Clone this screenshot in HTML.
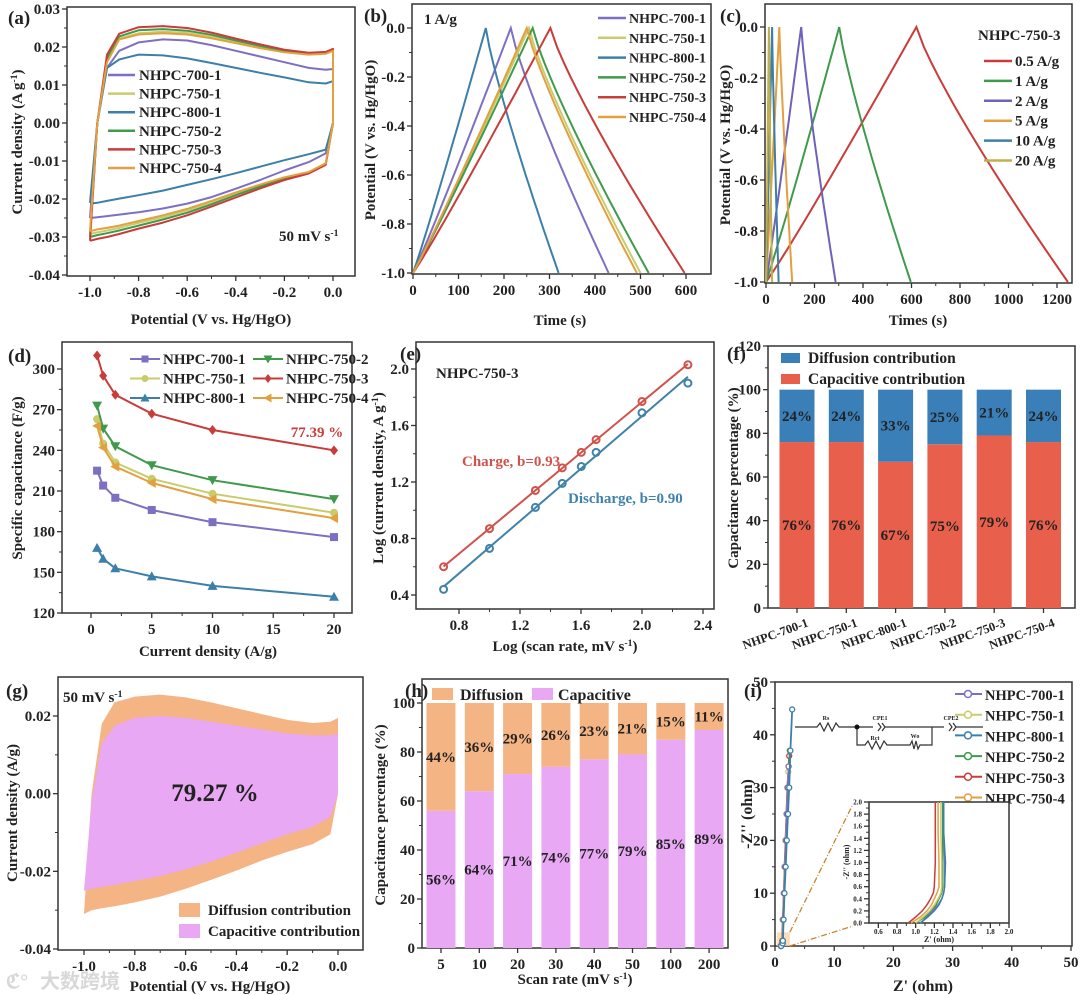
<!DOCTYPE html>
<html><head><meta charset="utf-8">
<style>
html,body{margin:0;padding:0;background:#fff;}
svg{display:block;font-family:"Liberation Serif","Noto Serif CJK SC",serif;font-weight:bold;}
</style></head>
<body>
<svg id="fig" width="1080" height="995" viewBox="0 0 1080 995" xmlns="http://www.w3.org/2000/svg"></svg>
<script>
// ---------- DATA ----------
const cvX = [-1,-0.97,-0.93,-0.88,-0.8,-0.7,-0.6,-0.5,-0.4,-0.3,-0.2,-0.1,-0.03,0];
const cvNames = ["NHPC-700-1","NHPC-750-1","NHPC-800-1","NHPC-750-2","NHPC-750-3","NHPC-750-4"];
const cvColors = ["#7d70c2","#c9cc6c","#3c80aa","#409a4c","#c83c3a","#e2a040"];
const cvUp700_1 = [-0.025,0.0,0.0145,0.019,0.0212,0.022,0.0217,0.0205,0.019,0.0175,0.016,0.0145,0.014,0.0142];
const cvUp750_1 = [-0.029,0.0,0.0165,0.0222,0.0236,0.024,0.0237,0.0227,0.0213,0.020,0.0188,0.0181,0.0183,0.0191];
const cvUp800_1 = [-0.021,0.0,0.0145,0.0167,0.018,0.0178,0.017,0.0158,0.0145,0.0132,0.012,0.0107,0.0104,0.011];
const cvUp750_2 = [-0.030,0.0,0.017,0.0228,0.0244,0.0247,0.0243,0.0232,0.0217,0.0203,0.019,0.0183,0.0185,0.0193];
const cvUp750_3 = [-0.031,0.0,0.018,0.0235,0.0252,0.0255,0.025,0.0238,0.0222,0.0207,0.0193,0.0185,0.0187,0.0195];
const cvUp750_4 = [-0.0285,0.0,0.016,0.022,0.0233,0.0236,0.0233,0.0223,0.021,0.0197,0.0186,0.018,0.0182,0.019];
const cvLo700_1 = [-0.025,-0.0248,-0.0245,-0.0241,-0.0235,-0.0225,-0.0212,-0.0195,-0.0173,-0.015,-0.0125,-0.0103,-0.008,0];
const cvLo750_1 = [-0.0292,-0.0288,-0.0283,-0.0276,-0.0263,-0.0248,-0.023,-0.0209,-0.0186,-0.0164,-0.0145,-0.013,-0.0107,0];
const cvLo800_1 = [-0.0212,-0.021,-0.0205,-0.0199,-0.019,-0.0178,-0.0163,-0.0148,-0.0132,-0.0115,-0.0098,-0.0082,-0.007,0];
const cvLo750_2 = [-0.030,-0.0295,-0.029,-0.0283,-0.027,-0.0254,-0.0236,-0.0214,-0.019,-0.0167,-0.0147,-0.0131,-0.0108,0];
const cvLo750_3 = [-0.031,-0.0305,-0.030,-0.0292,-0.0278,-0.0262,-0.0243,-0.022,-0.0196,-0.0172,-0.015,-0.0133,-0.011,0];
const cvLo750_4 = [-0.0285,-0.028,-0.0276,-0.027,-0.0258,-0.0243,-0.0226,-0.0205,-0.0183,-0.0162,-0.0143,-0.0129,-0.0106,0];
const cvUp = [cvUp700_1,cvUp750_1,cvUp800_1,cvUp750_2,cvUp750_3,cvUp750_4];
const cvLo = [cvLo700_1,cvLo750_1,cvLo800_1,cvLo750_2,cvLo750_3,cvLo750_4];
const gcdPeak = [215,255,160,263,302,250];
const gcdEnd = [430,500,320,518,597,492];
const rateNames = ["0.5 A/g","1 A/g","2 A/g","5 A/g","10 A/g","20 A/g"];
const rateColors = ["#c83c3a","#409a4c","#6f62b8","#e2a040","#3c80aa","#c2b04c"];
const ratePeak = [620,302,145,55,25,12];
const rateEnd = [1245,597,287,108,52,25];
const dX = [0.5,1,2,5,10,20];
const d700_1 = [225,214,205,196,187,176];
const d750_1 = [263,245,231,219,208,194];
const d800_1 = [168,160,153,147,140,132];
const d750_2 = [273,256,243,229,218,204];
const d750_3 = [310,295,281,267,255,240];
const d750_4 = [258,242,228,216,204,190];
const dSeries = [d700_1,d750_1,d800_1,d750_2,d750_3,d750_4];
const dMarkers = ["square","circle","tri-up","tri-down","diamond","tri-left"];
const eX = [0.699,1.0,1.301,1.477,1.602,1.699,2.0,2.301];
const eCharge = [0.60,0.87,1.14,1.30,1.41,1.50,1.77,2.03];
const eDischarge = [0.44,0.73,1.02,1.19,1.31,1.41,1.69,1.90];
const fCats = ["NHPC-700-1","NHPC-750-1","NHPC-800-1","NHPC-750-2","NHPC-750-3","NHPC-750-4"];
const fCap = [76,76,67,75,79,76];
const fDiff = [24,24,33,25,21,24];
const gTotUp = [-0.031,0.0,0.018,0.0235,0.025,0.0255,0.0248,0.0235,0.022,0.0205,0.019,0.0182,0.0185,0.0195];
const gTotLo = [-0.031,-0.030,-0.0295,-0.029,-0.028,-0.0265,-0.0245,-0.0222,-0.0198,-0.0172,-0.015,-0.013,-0.0105,0];
const gCapUp = [-0.025,-0.002,0.013,0.0175,0.0195,0.02,0.0195,0.0185,0.0175,0.0165,0.0155,0.015,0.015,0.0155];
const gCapLo = [-0.025,-0.0245,-0.024,-0.0235,-0.0225,-0.0212,-0.0195,-0.0175,-0.0152,-0.0128,-0.0105,-0.0085,-0.006,0.0];
const hCats = ["5","10","20","30","40","50","100","200"];
const hCap = [56,64,71,74,77,79,85,89];
const hDiff = [44,36,29,26,23,21,15,11];
const iRe700_1 = [1.05,1.3,1.32,1.4,1.55,1.7,1.85,2.0,2.15,2.3];
const iIm700_1 = [0,0.5,1,5,10,15,20,25,30,34];
const iRe750_1 = [1.0,1.27,1.29,1.38,1.52,1.68,1.82,1.98,2.12,2.25];
const iIm750_1 = [0,0.5,1,5,10,15,20,25,30,33];
const iRe800_1 = [1.05,1.3,1.33,1.45,1.6,1.8,2.0,2.2,2.4,2.6,2.9];
const iIm800_1 = [0,0.5,1,5,10,15,20,25,30,37,44.8];
const iRe750_2 = [1.0,1.28,1.3,1.4,1.55,1.7,1.85,2.0,2.2,2.5];
const iIm750_2 = [0,0.5,1,5,10,15,20,25,30,37];
const iRe750_3 = [0.95,1.2,1.22,1.32,1.48,1.62,1.78,1.95,2.1,2.4];
const iIm750_3 = [0,0.5,1,5,10,15,20,25,30,36];
const iRe750_4 = [0.97,1.24,1.26,1.35,1.5,1.65,1.8,1.95,2.1,2.3];
const iIm750_4 = [0,0.5,1,5,10,15,20,25,30,34];
const iRe = [iRe700_1,iRe750_1,iRe800_1,iRe750_2,iRe750_3,iRe750_4];
const iIm = [iIm700_1,iIm750_1,iIm800_1,iIm750_2,iIm750_3,iIm750_4];
const insIm = [0,0.1,0.2,0.3,0.4,0.5,0.6,1.0,1.5,2.0];
const ins700_1 = [1.05,1.12,1.18,1.24,1.28,1.3,1.31,1.31,1.3,1.3];
const ins750_1 = [1.0,1.08,1.15,1.2,1.24,1.27,1.28,1.28,1.27,1.27];
const ins800_1 = [1.05,1.13,1.2,1.25,1.28,1.3,1.31,1.32,1.3,1.3];
const ins750_2 = [1.0,1.1,1.17,1.22,1.25,1.28,1.29,1.29,1.29,1.29];
const ins750_3 = [0.92,1.0,1.07,1.12,1.16,1.19,1.2,1.21,1.21,1.21];
const ins750_4 = [0.95,1.05,1.12,1.17,1.2,1.23,1.25,1.25,1.24,1.24];
const insRe = [ins700_1,ins750_1,ins800_1,ins750_2,ins750_3,ins750_4];

// ---------- HELPERS ----------
const NS = "http://www.w3.org/2000/svg";
const svg = document.getElementById("fig");
function el(tag, attrs, name, parent) {
  const e = document.createElementNS(NS, tag);
  for (const k in attrs) e.setAttribute(k, attrs[k]);
  
  
  (parent || svg).appendChild(e);
  return e;
}
function txt(x, y, s, name, o) {
  o = o || {};
  const t = el("text", {x:x, y:y, "font-size":o.size||15, "text-anchor":o.anchor||"start", fill:o.fill||"#222"}, name, o.parent);
  if (o.rot) t.setAttribute("transform", "rotate(" + o.rot + " " + x + " " + y + ")");
  if (o.sup) {
    t.appendChild(document.createTextNode(s));
    const sp = document.createElementNS(NS, "tspan");
    sp.setAttribute("baseline-shift", "super");
    sp.setAttribute("font-size", (o.size||15)*0.65);
    sp.textContent = o.sup;
    t.appendChild(sp);
    if (o.after) t.appendChild(document.createTextNode(o.after));
  } else t.textContent = s;
  return t;
}
function lin(v0, p0, v1, p1) { return v => p0 + (v - v0) * (p1 - p0) / (v1 - v0); }
function panel(p) {
  const g = el("g", {}, p.name);
  el("rect", {x:p.L, y:p.T, width:p.R-p.L, height:p.B-p.T, fill:"none", stroke:"#333", "stroke-width":1.5}, p.name + "-frame", g);
  const sx = p.sx, sy = p.sy;
  if (p.xt) {
    p.xt.forEach((v, i) => {
      const x = sx(v);
      el("line", {x1:x, y1:p.B, x2:x, y2:p.B+5, stroke:"#333", "stroke-width":1.3}, "x-tick", g);
      if (i < p.xt.length - 1) { const xm = sx((v + p.xt[i+1]) / 2); el("line", {x1:xm, y1:p.B, x2:xm, y2:p.B+3, stroke:"#333"}, "x-minor-tick", g); }
      txt(x, p.B + 21, p.xf(v), "x-tick-label", {anchor:"middle", parent:g, size:p.fs||15});
    });
  }
  if (p.yt) {
    p.yt.forEach((v, i) => {
      const y = sy(v);
      el("line", {x1:p.L-5, y1:y, x2:p.L, y2:y, stroke:"#333", "stroke-width":1.3}, "y-tick", g);
      if (i < p.yt.length - 1) { const ym = sy((v + p.yt[i+1]) / 2); el("line", {x1:p.L-3, y1:ym, x2:p.L, y2:ym, stroke:"#333"}, "y-minor-tick", g); }
      txt(p.L - 7, y + 5, p.yf(v), "y-tick-label", {anchor:"end", parent:g, size:p.fs||15});
    });
  }
  return g;
}
function pathD(xs, ys, sx, sy) { return xs.map((x, i) => (i ? "L" : "M") + sx(x).toFixed(1) + "," + sy(ys[i]).toFixed(1)).join(""); }
function marker(g, type, x, y, col, r) {
  r = r || 4;
  let d;
  if (type === "square") return el("rect", {x:x-r, y:y-r, width:2*r, height:2*r, fill:col}, "marker-square", g);
  if (type === "circle") return el("circle", {cx:x, cy:y, r:r, fill:col}, "marker-circle", g);
  if (type === "tri-up") d = `M${x},${y-r-1}L${x+r+1},${y+r}L${x-r-1},${y+r}Z`;
  if (type === "tri-down") d = `M${x},${y+r+1}L${x+r+1},${y-r}L${x-r-1},${y-r}Z`;
  if (type === "tri-left") d = `M${x-r-1},${y}L${x+r},${y-r-1}L${x+r},${y+r+1}Z`;
  if (type === "diamond") d = `M${x},${y-r-1}L${x+r},${y}L${x},${y+r+1}L${x-r},${y}Z`;
  return el("path", {d:d, fill:col}, "marker-" + type, g);
}
const f1 = v => v.toFixed(1), f2 = v => v.toFixed(2), f0 = v => String(v);

// ---------- (a) ----------
(function(){
  const p = {name:"panel-a-cv", L:67, R:355, T:7, B:276, sx:lin(-1,90,0,333), sy:lin(-0.04,275,0.03,9),
    xt:[-1,-0.8,-0.6,-0.4,-0.2,0], xf:f1, yt:[-0.04,-0.03,-0.02,-0.01,0,0.01,0.02,0.03], yf:f2};
  const g = panel(p);
  cvNames.forEach((n, i) => {
    const d = pathD(cvX, cvUp[i], p.sx, p.sy) + pathD(cvX.slice().reverse(), cvLo[i].slice().reverse(), p.sx, p.sy).replace("M", "L");
    el("path", {d:d, fill:"none", stroke:cvColors[i], "stroke-width":2, "stroke-linejoin":"round"}, "cv-curve-" + n.toLowerCase(), g);
    const y = 80 + i * 18.6;
    el("line", {x1:108, y1:y-5, x2:135, y2:y-5, stroke:cvColors[i], "stroke-width":2.5}, "legend-line", g);
    txt(139, y, n, "legend-entry", {parent:g});
  });
  txt(279, 241, "50 mV s", "scan-rate-note", {parent:g, sup:"-1"});
  txt(8, 24, "(a)", "panel-label-a", {size:19});
  txt(211, 324, "Potential (V vs. Hg/HgO)", "x-axis-title", {anchor:"middle", parent:g});
  txt(22, 142, "Current density (A g", "y-axis-title", {anchor:"middle", rot:-90, parent:g, sup:"-1", after:")"});
})();

// ---------- (b) ----------
(function(){
  const p = {name:"panel-b-gcd", L:412, R:711, T:4, B:274, sx:lin(0,413,600,686), sy:lin(-1,273,0,28),
    xt:[0,100,200,300,400,500,600], xf:f0, yt:[-1,-0.8,-0.6,-0.4,-0.2,0], yf:f1};
  const g = panel(p);
  cvNames.forEach((n, i) => {
    const xs = [], ys = [];
    for (let k = 0; k <= 20; k++) { const u = k/20; xs.push(u*gcdPeak[i]); ys.push(-1 + Math.pow(u, 1.05)); }
    for (let k = 1; k <= 20; k++) { const u = k/20; xs.push(gcdPeak[i] + u*(gcdEnd[i]-gcdPeak[i])); ys.push(-Math.pow(u, 0.85)); }
    el("path", {d:pathD(xs, ys, p.sx, p.sy), fill:"none", stroke:cvColors[i], "stroke-width":2}, "gcd-curve-" + n.toLowerCase(), g);
    const y = 23 + i * 19.8;
    el("line", {x1:598, y1:y-5, x2:626, y2:y-5, stroke:cvColors[i], "stroke-width":2.5}, "legend-line", g);
    txt(629, y, n, "legend-entry", {parent:g, size:14});
  });
  txt(424, 24, "1 A/g", "current-note", {parent:g});
  txt(364, 22, "(b)", "panel-label-b", {size:19});
  txt(560, 325, "Time (s)", "x-axis-title", {anchor:"middle", parent:g});
  txt(375, 140, "Potential (V vs. Hg/HgO)", "y-axis-title", {anchor:"middle", rot:-90, parent:g});
})();

// ---------- (c) ----------
(function(){
  const p = {name:"panel-c-rate-gcd", L:765, R:1072, T:4, B:283, sx:lin(0,766,1200,1057), sy:lin(-1,282,0,27),
    xt:[0,200,400,600,800,1000,1200], xf:f0, yt:[-1,-0.8,-0.6,-0.4,-0.2,0], yf:f1};
  const g = panel(p);
  rateNames.forEach((n, i) => {
    const xs = [], ys = [];
    for (let k = 0; k <= 20; k++) { const u = k/20; xs.push(u*ratePeak[i]); ys.push(-1 + Math.pow(u, 1.05)); }
    for (let k = 1; k <= 20; k++) { const u = k/20; xs.push(ratePeak[i] + u*(rateEnd[i]-ratePeak[i])); ys.push(-Math.pow(u, 0.85)); }
    el("path", {d:pathD(xs, ys, p.sx, p.sy), fill:"none", stroke:rateColors[i], "stroke-width":2}, "rate-curve", g);
    const y = 66 + i * 19.9;
    el("line", {x1:984, y1:y-5, x2:1012, y2:y-5, stroke:rateColors[i], "stroke-width":2.5}, "legend-line", g);
    txt(1015, y, n, "legend-entry", {parent:g});
  });
  txt(978, 40, "NHPC-750-3", "legend-title", {parent:g});
  txt(720, 22, "(c)", "panel-label-c", {size:19});
  txt(918, 325, "Times (s)", "x-axis-title", {anchor:"middle", parent:g});
  txt(730, 145, "Potential (V vs. Hg/HgO)", "y-axis-title", {anchor:"middle", rot:-90, parent:g});
})();

// ---------- (d) ----------
(function(){
  const p = {name:"panel-d-capacitance", L:62, R:352, T:342, B:613, sx:lin(0,91,20,334), sy:lin(120,613,300,369),
    xt:[0,5,10,15,20], xf:f0, yt:[120,150,180,210,240,270,300], yf:f0};
  const g = panel(p);
  dSeries.forEach((s, i) => {
    el("path", {d:pathD(dX, s, p.sx, p.sy), fill:"none", stroke:cvColors[i], "stroke-width":2}, "capacitance-line-" + cvNames[i].toLowerCase(), g);
    dX.forEach((x, k) => marker(g, dMarkers[i], p.sx(x), p.sy(s[k]), cvColors[i]));
    const col = i < 3 ? 0 : 1, row = i % 3;
    const lx = col ? 253 : 130, y = 364 + row * 19.5;
    el("line", {x1:lx, y1:y-5, x2:lx+30, y2:y-5, stroke:cvColors[i], "stroke-width":2}, "legend-line", g);
    marker(g, dMarkers[i], lx+15, y-5, cvColors[i], 3.5);
    txt(lx+33, y, cvNames[i], "legend-entry", {parent:g});
  });
  txt(317, 437, "77.39 %", "retention-label", {anchor:"middle", parent:g, fill:"#c83c3a"});
  txt(8, 362, "(d)", "panel-label-d", {size:19});
  txt(208, 656, "Current density (A/g)", "x-axis-title", {anchor:"middle", parent:g});
  txt(22, 478, "Specific capacitance (F/g)", "y-axis-title", {anchor:"middle", rot:-90, parent:g});
})();

// ---------- (e) ----------
(function(){
  const p = {name:"panel-e-b-value", L:416, R:714, T:342, B:609, sx:lin(0.8,459,2.4,703), sy:lin(0.4,595,2.0,369),
    xt:[0.8,1.2,1.6,2.0,2.4], xf:f1, yt:[0.4,0.8,1.2,1.6,2.0], yf:f1};
  const g = panel(p);
  function fit(xs, ys) {
    const n = xs.length, mx = xs.reduce((a,b)=>a+b)/n, my = ys.reduce((a,b)=>a+b)/n;
    let sxy = 0, sxx = 0; xs.forEach((x,i)=>{ sxy += (x-mx)*(ys[i]-my); sxx += (x-mx)*(x-mx); });
    const b = sxy/sxx; return [b, my - b*mx];
  }
  [[eCharge,"#d0524a","charge"],[eDischarge,"#3f82aa","discharge"]].forEach(([ys,col,nm]) => {
    const [b,a] = fit(eX, ys), x0 = eX[0], x1 = eX[eX.length-1];
    el("line", {x1:p.sx(x0), y1:p.sy(a+b*x0), x2:p.sx(x1), y2:p.sy(a+b*x1), stroke:col, "stroke-width":2}, nm + "-fit-line", g);
    eX.forEach((x,k) => el("circle", {cx:p.sx(x), cy:p.sy(ys[k]), r:3.5, fill:"none", stroke:col, "stroke-width":2}, nm + "-point", g));
  });
  txt(436, 378, "NHPC-750-3", "sample-label", {parent:g});
  txt(462, 466, "Charge, b=0.93", "charge-label", {parent:g, fill:"#d0524a"});
  txt(568, 503, "Discharge, b=0.90", "discharge-label", {parent:g, fill:"#3f82aa"});
  txt(400, 360, "(e)", "panel-label-e", {size:19});
  txt(565, 651, "Log (scan rate, mV s", "x-axis-title", {anchor:"middle", parent:g, sup:"-1", after:")"});
  txt(383, 478, "Log (current density, A g", "y-axis-title", {anchor:"middle", rot:-90, parent:g, sup:"-1", after:")"});
})();

// ---------- (f) ----------
(function(){
  const p = {name:"panel-f-contribution", L:768, R:1075, T:346, B:608, sy:lin(0,608,120,346),
    yt:[0,20,40,60,80,100,120], yf:f0};
  const g = panel(p);
  const bx = i => 797 + i * 49.3, w = 35;
  fCats.forEach((c, i) => {
    const x = bx(i);
    el("rect", {x:x-w/2, y:p.sy(fCap[i]), width:w, height:p.sy(0)-p.sy(fCap[i]), fill:"#e8604c"}, "bar-capacitive-" + c.toLowerCase(), g);
    el("rect", {x:x-w/2, y:p.sy(fCap[i]+fDiff[i]), width:w, height:p.sy(fCap[i])-p.sy(fCap[i]+fDiff[i]), fill:"#3a7fb8"}, "bar-diffusion-" + c.toLowerCase(), g);
    txt(x, p.sy(fCap[i]/2)+5, fCap[i] + "%", "capacitive-value", {anchor:"middle", parent:g, size:15});
    txt(x, p.sy(fCap[i]+fDiff[i]/2)+5, fDiff[i] + "%", "diffusion-value", {anchor:"middle", parent:g, size:15});
    el("line", {x1:x, y1:p.B, x2:x, y2:p.B+5, stroke:"#333", "stroke-width":1.3}, "x-tick", g);
    txt(x+12, p.B+18, c, "x-tick-label", {anchor:"end", rot:-20, parent:g, size:12.5});
  });
  el("rect", {x:781, y:353, width:19, height:10, fill:"#3a7fb8"}, "legend-swatch-diffusion", g);
  txt(808, 363, "Diffusion contribution", "legend-entry", {parent:g, size:15.5});
  el("rect", {x:781, y:374, width:19, height:10, fill:"#e8604c"}, "legend-swatch-capacitive", g);
  txt(808, 384, "Capacitive contribution", "legend-entry", {parent:g, size:15.5});
  txt(727, 360, "(f)", "panel-label-f", {size:19});
  txt(738, 478, "Capacitance percentage (%)", "y-axis-title", {anchor:"middle", rot:-90, parent:g});
})();

// ---------- (g) ----------
(function(){
  const p = {name:"panel-g-cv-separation", L:58, R:363, T:677, B:950, sx:lin(-1,84,0,338), sy:lin(-0.04,949,0.02,716),
    xt:[-1,-0.8,-0.6,-0.4,-0.2,0], xf:f1, yt:[-0.04,-0.02,0,0.02], yf:f2};
  const g = panel(p);
  const rev = a => a.slice().reverse();
  el("path", {d:pathD(cvX, gTotUp, p.sx, p.sy) + pathD(rev(cvX), rev(gTotLo), p.sx, p.sy).replace("M","L") + "Z", fill:"#f4b483"}, "diffusion-area", g);
  el("path", {d:pathD(cvX, gCapUp, p.sx, p.sy) + pathD(rev(cvX), rev(gCapLo), p.sx, p.sy).replace("M","L") + "Z", fill:"#e8a8f4"}, "capacitive-area", g);
  txt(215, 801, "79.27 %", "capacitive-percent", {anchor:"middle", parent:g, size:25});
  txt(63, 702, "50 mV s", "scan-rate-note", {parent:g, sup:"-1"});
  el("rect", {x:179, y:903, width:21, height:14, fill:"#f4b483"}, "legend-swatch-diffusion", g);
  txt(208, 915, "Diffusion contribution", "legend-entry", {parent:g});
  el("rect", {x:179, y:924, width:21, height:14, fill:"#e8a8f4"}, "legend-swatch-capacitive", g);
  txt(208, 936, "Capacitive contribution", "legend-entry", {parent:g});
  txt(6, 697, "(g)", "panel-label-g", {size:19});
  txt(210, 991, "Potential (V vs. Hg/HgO)", "x-axis-title", {anchor:"middle", parent:g});
  txt(17, 813, "Current density (A/g)", "y-axis-title", {anchor:"middle", rot:-90, parent:g});
})();

// ---------- (h) ----------
(function(){
  const p = {name:"panel-h-rate-contribution", L:422, R:728, T:679, B:948, sy:lin(0,948,100,703),
    yt:[0,20,40,60,80,100], yf:f0};
  const g = panel(p);
  const bx = i => 441 + i * 38.3, w = 29;
  hCats.forEach((c, i) => {
    const x = bx(i);
    el("rect", {x:x-w/2, y:p.sy(hCap[i]), width:w, height:p.sy(0)-p.sy(hCap[i]), fill:"#e8a8f4"}, "bar-capacitive-" + c, g);
    el("rect", {x:x-w/2, y:p.sy(hCap[i]+hDiff[i]), width:w, height:p.sy(hCap[i])-p.sy(hCap[i]+hDiff[i]), fill:"#f4b483"}, "bar-diffusion-" + c, g);
    txt(x, p.sy(hCap[i]/2)+5, hCap[i] + "%", "capacitive-value", {anchor:"middle", parent:g, size:15});
    txt(x, p.sy(hCap[i]+hDiff[i]/2)+5, hDiff[i] + "%", "diffusion-value", {anchor:"middle", parent:g, size:15});
    el("line", {x1:x, y1:p.B, x2:x, y2:p.B+5, stroke:"#333", "stroke-width":1.3}, "x-tick", g);
    txt(x, p.B+21, c, "x-tick-label", {anchor:"middle", parent:g});
  });
  el("rect", {x:432, y:688, width:21, height:12, fill:"#f4b483"}, "legend-swatch-diffusion", g);
  txt(460, 700, "Diffusion", "legend-entry", {parent:g, size:16});
  el("rect", {x:532, y:688, width:21, height:12, fill:"#e8a8f4"}, "legend-swatch-capacitive", g);
  txt(558, 700, "Capacitive", "legend-entry", {parent:g, size:16});
  txt(405, 697, "(h)", "panel-label-h", {size:19});
  txt(575, 984, "Scan rate (mV s", "x-axis-title", {anchor:"middle", parent:g, sup:"-1", after:")"});
  txt(385, 815, "Capacitance percentage (%)", "y-axis-title", {anchor:"middle", rot:-90, parent:g});
})();

// ---------- (i) ----------
(function(){
  const p = {name:"panel-i-nyquist", L:775, R:1072, T:682, B:946, sx:lin(0,775,50,1071), sy:lin(0,946,50,682),
    xt:[0,10,20,30,40,50], xf:f0, yt:[0,10,20,30,40,50], yf:f0};
  const g = panel(p);
  el("rect", {x:p.sx(0.3), y:p.sy(2.6), width:p.sx(2.5)-p.sx(0.3), height:p.sy(0)-p.sy(2.6), fill:"#f6d6a8", opacity:0.8}, "zoom-region", g);
  el("line", {x1:p.sx(2.5), y1:p.sy(2.6), x2:852, y2:806, stroke:"#c87a20", "stroke-width":1.2, "stroke-dasharray":"6,2,1,2"}, "zoom-guide-upper", g);
  el("line", {x1:p.sx(2.5), y1:p.sy(0), x2:853, y2:926, stroke:"#c87a20", "stroke-width":1.2, "stroke-dasharray":"6,2,1,2"}, "zoom-guide-lower", g);
  const order = [5,4,3,1,0,2];
  order.forEach(i => {
    el("path", {d:pathD(iRe[i], iIm[i], p.sx, p.sy), fill:"none", stroke:cvColors[i], "stroke-width":1.8}, "nyquist-line-" + cvNames[i].toLowerCase(), g);
    iRe[i].forEach((x,k) => el("circle", {cx:p.sx(x), cy:p.sy(iIm[i][k]), r:2.5, fill:"#fff", stroke:cvColors[i], "stroke-width":1.3}, "nyquist-point", g));
  });
  cvNames.forEach((n, i) => {
    const y = 700 + i * 20.7;
    el("line", {x1:955, y1:y-6, x2:982, y2:y-6, stroke:cvColors[i], "stroke-width":2}, "legend-line", g);
    el("circle", {cx:968, cy:y-6, r:3.5, fill:"#fff", stroke:cvColors[i], "stroke-width":1.5}, "legend-marker", g);
    txt(985, y, n, "legend-entry", {parent:g, size:14.5});
  });
  const cg = el("g", {stroke:"#333", "stroke-width":1.2, fill:"none"}, "equivalent-circuit", g);
  el("path", {d:"M795,727H817l3,-4l4,8l4,-8l4,8l4,-8l3,4H857H873M878,723l3,4l-3,4M882,723l3,4l-3,4M885,727H932H944M949,723l3,4l-3,4M953,723l3,4l-3,4M956,727H983"}, "circuit-top-wire", cg);
  el("path", {d:"M857,727V745H865l3,-4l4,8l4,-8l4,8l4,-8l3,4H910l2,-4l2,8l2,-8l2,8l2,-4H932V727"}, "circuit-branch", cg);
  el("circle", {cx:857, cy:727, r:2.5, fill:"#111", stroke:"none"}, "circuit-node", g);
  txt(826, 720, "Rs", "circuit-label-rs", {parent:g, size:6, anchor:"middle"});
  txt(880, 720, "CPE1", "circuit-label-cpe1", {parent:g, size:6, anchor:"middle"});
  txt(951, 720, "CPE2", "circuit-label-cpe2", {parent:g, size:6, anchor:"middle"});
  txt(875, 740, "Rct", "circuit-label-rct", {parent:g, size:6, anchor:"middle"});
  txt(915, 738, "Wo", "circuit-label-wo", {parent:g, size:6, anchor:"middle"});
  const ip = {name:"nyquist-inset", L:869, R:1009, T:802, B:923, sx:lin(0.5,869,2.0,1009), sy:lin(0,923,2.0,802),
    xt:[0.6,0.8,1.0,1.2,1.4,1.6,1.8,2.0], xf:f1, yt:[0,0.2,0.4,0.6,0.8,1.0,1.2,1.4,1.6,1.8,2.0], yf:f1, fs:7};
  el("rect", {x:869, y:802, width:140, height:121, fill:"#fff"}, "inset-background", g);
  const ig = panel(ip);
  ig.querySelectorAll("text").forEach(t => { const y = +t.getAttribute("y"); if (t.getAttribute("text-anchor") === "middle") t.setAttribute("y", ip.B + 11); else t.setAttribute("y", y - 2.5); });
  order.forEach(i => {
    el("path", {d:pathD(insRe[i], insIm, ip.sx, ip.sy), fill:"none", stroke:cvColors[i], "stroke-width":1.5}, "inset-line-" + cvNames[i].toLowerCase(), ig);
  });
  txt(939, 942, "Z' (ohm)", "inset-x-title", {anchor:"middle", parent:ig, size:8});
  txt(849, 862, "-Z'' (ohm)", "inset-y-title", {anchor:"middle", rot:-90, parent:ig, size:8});
  txt(744, 697, "(i)", "panel-label-i", {size:19});
  txt(923, 991, "Z' (ohm)", "x-axis-title", {anchor:"middle", parent:g, size:16});
  txt(752, 814, "-Z'' (ohm)", "y-axis-title", {anchor:"middle", rot:-90, parent:g, size:16});
})();

const wm = txt(40, 988, "大数跨境", "watermark", {size:20, fill:"#d8d8d8"});
wm.setAttribute("font-family", "'Liberation Sans','Noto Sans CJK SC',sans-serif");
const wmIcon = el("text", {x:6, y:988, "font-size":20, fill:"#d8d8d8"}, "watermark-icon");
wmIcon.textContent = "ℭ°";
</script>
</body></html>
